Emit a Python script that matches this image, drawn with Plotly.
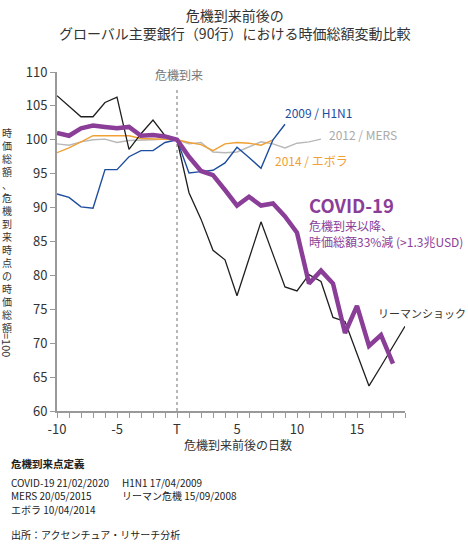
import plotly.graph_objects as go

FONT = "Noto Sans CJK JP, Noto Sans, sans-serif"

# ---- data ----
days_lehman = list(range(-10, 20))
lehman = [106.5, 105.0, 103.4, 103.4, 105.5, 106.3, 98.6, 100.9, 102.9, 100.6,
          100.0, 92.2, 88.3, 83.7, 82.3, 77.0, 82.5, 87.9, 83.1, 78.3,
          77.7, 80.1, 79.1, 73.8, 73.2, 68.5, 63.7, 66.6, 69.6, 72.5]

days_covid = list(range(-10, 19))
covid = [101.0, 100.6, 101.7, 102.1, 101.9, 101.7, 101.9, 100.6, 100.7, 100.5,
         100.0, 97.5, 95.4, 94.8, 92.6, 90.3, 91.6, 90.3, 90.6, 88.7,
         86.3, 78.8, 80.7, 78.8, 71.5, 75.5, 69.6, 71.2, 67.0]

days_h1n1 = list(range(-10, 10))
h1n1 = [92.0, 91.5, 90.1, 89.9, 95.6, 95.6, 97.5, 98.4, 98.4, 99.6,
        100.0, 95.1, 95.3, 95.5, 96.6, 98.9, 97.4, 95.8, 100.0, 102.3]

days_ebola = list(range(-10, 9))
ebola = [98.1, 98.8, 99.7, 100.6, 100.6, 100.6, 100.6, 100.2, 100.1, 100.1,
         100.0, 99.6, 99.3, 98.4, 99.4, 99.6, 99.5, 99.2, 100.0]

days_mers = list(range(-10, 13))
mers = [99.4, 99.2, 99.7, 100.0, 100.1, 99.6, 99.9, 99.9, 100.0, 100.1,
        100.0, 99.4, 99.6, 98.2, 98.1, 98.2, 98.9, 99.7, 99.4, 98.8,
        99.5, 99.7, 100.1]

x_tickvals = list(range(-10, 20))
x_ticktext = [{-10: "-10", -5: "-5", 0: "T", 5: "5", 10: "10", 15: "15"}.get(v, "") for v in x_tickvals]
y_tickvals = list(range(60, 111, 5))

# ---- colours ----
C_COVID = "#8b3e98"
C_LEH = "#1e1e1e"
C_H1N1 = "#1d4d9f"
C_EBOLA = "#f0a034"
C_MERS = "#b8b8b8"

fig = go.Figure()
fig.add_trace(go.Scatter(x=days_mers, y=mers, mode="lines", line=dict(color=C_MERS, width=1.4), name="MERS"))
fig.add_trace(go.Scatter(x=days_ebola, y=ebola, mode="lines", line=dict(color=C_EBOLA, width=1.4), name="Ebola"))
fig.add_trace(go.Scatter(x=days_h1n1, y=h1n1, mode="lines", line=dict(color=C_H1N1, width=1.4), name="H1N1"))
fig.add_trace(go.Scatter(x=days_lehman, y=lehman, mode="lines", line=dict(color=C_LEH, width=1.3), name="Lehman"))
fig.add_trace(go.Scatter(x=days_covid, y=covid, mode="lines", line=dict(color=C_COVID, width=4.5), name="COVID-19"))

fig.add_shape(type="line", x0=0, x1=0, y0=60, y1=107.8, xref="x", yref="y",
              line=dict(color="#888888", width=1.2, dash="dot"), layer="below")

ann = []
def A(text, x, y, xref="x", yref="y", size=12, color="#333333", xanchor="left", yanchor="middle", **kw):
    ann.append(dict(text=text, x=x, y=y, xref=xref, yref=yref, showarrow=False,
                    font=dict(size=size, color=color, family=FONT),
                    xanchor=xanchor, yanchor=yanchor, **kw))

def P(px, py):
    return (px - 57) / 348, (411 - py) / 339

# title
fx, fy = P(234, 24)
A("危機到来前後の<br>グローバル主要銀行（90行）における時価総額変動比較", fx, fy,
  xref="paper", yref="paper", size=14, color="#333333", xanchor="center")

A("危機到来", 0.2, 109.6, size=12, color="#777777", xanchor="center")
A("2009 / H1N1", 8.8, 104.1, size=12, color=C_H1N1)
A("2012 / MERS", 12.5, 100.85, size=12, color="#aaaaaa")
A("2014 / エボラ", 8.0, 97.0, size=12, color=C_EBOLA)
A("<b>COVID-19</b>", 10.8, 90.35, size=18.5, color=C_COVID)
A("危機到来以降、<br>時価総額33%減 (>1.3兆USD)", 10.8, 86.15, size=12, color=C_COVID, align="left")
A("リーマンショック", 16.55, 74.5, size=11, color="#333333")

# axis title (x)
fx, fy = P(238, 444)
A("危機到来前後の日数", fx, fy, xref="paper", yref="paper", size=12, color="#333333", xanchor="center")

# vertical y-axis title, upright characters
ytitle = "時価総額、危機到来時点の時価総額"
fx, fy = P(7, 230)
A("<br>".join(ytitle), fx, fy, xref="paper", yref="paper", size=10, color="#333333", xanchor="center")
fx, fy = P(7, 345)
A("=100", fx, fy, xref="paper", yref="paper", size=11, color="#333333", xanchor="center", textangle=90)

# footer
fx, fy = P(9, 463); A("<b>危機到来点定義</b>", fx, fy, xref="paper", yref="paper", size=10.5, color="#222222")
fx, fy = P(9, 482); A("COVID-19 21/02/2020", fx, fy, xref="paper", yref="paper", size=10, color="#222222")
fx, fy = P(120, 482); A("H1N1 17/04/2009", fx, fy, xref="paper", yref="paper", size=10, color="#222222")
fx, fy = P(9, 496); A("MERS 20/05/2015", fx, fy, xref="paper", yref="paper", size=10, color="#222222")
fx, fy = P(120, 495.5); A("リーマン危機 15/09/2008", fx, fy, xref="paper", yref="paper", size=10, color="#222222")
fx, fy = P(9, 509.5); A("エボラ 10/04/2014", fx, fy, xref="paper", yref="paper", size=10, color="#222222")
fx, fy = P(9, 534); A("出所：アクセンチュア・リサーチ分析", fx, fy, xref="paper", yref="paper", size=10, color="#222222")

fig.update_layout(
    width=468, height=544,
    margin=dict(l=57, r=63, t=72, b=133),
    paper_bgcolor="white", plot_bgcolor="white",
    showlegend=False,
    font=dict(family=FONT, color="#333333"),
    annotations=ann,
)
fig.update_xaxes(range=[-10, 19], tickvals=x_tickvals, ticktext=x_ticktext,
                 ticks="outside", ticklen=5, tickcolor="#999999", tickwidth=1,
                 showline=True, linecolor="#999999", linewidth=2, showgrid=False, zeroline=False,
                 tickfont=dict(size=13, color="#333333"), fixedrange=True)
fig.update_yaxes(range=[60, 110], tickvals=y_tickvals,
                 ticks="outside", ticklen=5, tickcolor="#999999", tickwidth=1,
                 showline=True, linecolor="#999999", linewidth=2, showgrid=False, zeroline=False,
                 tickfont=dict(size=13, color="#333333"), fixedrange=True)

fig.write_html("out.html", config={"displayModeBar": False},
               post_script="document.body.style.margin='0';document.body.style.padding='0';")
